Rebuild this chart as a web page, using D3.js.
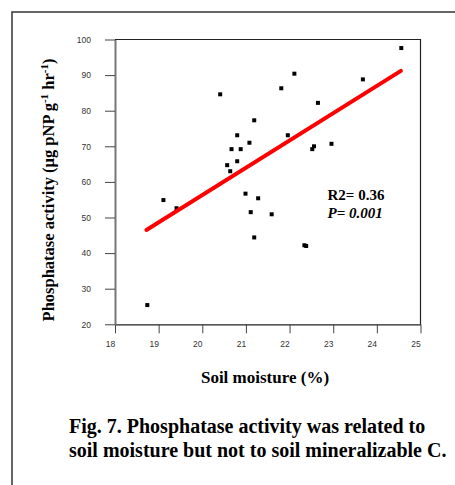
<!DOCTYPE html>
<html>
<head>
<meta charset="utf-8">
<script src="https://cdn.jsdelivr.net/npm/d3@7"></script>
<style>
  body { margin: 0; background: #fff; }
  svg { display: block; }
</style>
</head>
<body>
<div id="chart-area"></div>
<script>
// soil moisture (%) and phosphatase activity readings
var moisture = [18.74, 19.11, 19.41, 20.41, 20.57, 20.64, 20.67, 20.80, 20.80, 20.88, 20.99, 21.08, 21.11, 21.19, 21.19, 21.28, 21.59, 21.81, 21.96, 22.11, 22.34, 22.38, 22.52, 22.56, 22.65, 22.96, 23.68, 24.56];
var activity = [25.4, 54.9, 52.6, 84.6, 64.7, 63.0, 69.2, 73.1, 65.8, 69.2, 56.7, 71.0, 51.5, 77.3, 44.4, 55.4, 50.9, 86.3, 73.1, 90.4, 42.2, 42.0, 69.2, 70.0, 82.2, 70.7, 88.8, 97.6];
var fitX = [18.72, 24.55];
var fitY = [46.5, 91.2];
var xTicks = [18, 19, 20, 21, 22, 23, 24, 25];
var yTicks = [20, 30, 40, 50, 60, 70, 80, 90, 100];

var W = 455, H = 485;
var plot = { left: 115, right: 420.5, top: 39.5, bottom: 324.3 };

var svg = d3.select("#chart-area").append("svg")
    .attr("width", W)
    .attr("height", H);

// outer figure frame
svg.append("rect")
    .attr("x", 12).attr("y", 12)
    .attr("width", 460).attr("height", 490)
    .attr("fill", "none")
    .attr("stroke", "#333")
    .attr("stroke-width", 1.5);

var x = d3.scaleLinear().domain([18, 25]).range([plot.left, plot.right]);
var y = d3.scaleLinear().domain([20, 100]).range([plot.bottom, plot.top]);

// box top and right
svg.append("path")
    .attr("d", `M${plot.left},${plot.top}H${plot.right}V${plot.bottom}`)
    .attr("fill", "none")
    .attr("stroke", "#222")
    .attr("stroke-width", 1.2);

var xAxis = svg.append("g")
    .attr("transform", `translate(0,${plot.bottom})`)
    .call(d3.axisBottom(x).tickValues(xTicks).tickFormat(d3.format("d")).tickSize(9).tickSizeOuter(0).tickPadding(8));
xAxis.select(".domain").attr("stroke", "#222").attr("stroke-width", 1.3);
xAxis.selectAll(".tick line").attr("stroke", "#444").attr("stroke-width", 1);
xAxis.selectAll("text")
    .attr("font-family", "Liberation Sans, Arial, sans-serif")
    .attr("font-size", "8.5px")
    .attr("fill", "#333")
    .attr("dx", -5);

var yAxis = svg.append("g")
    .attr("transform", `translate(${plot.left},0)`)
    .call(d3.axisLeft(y).tickValues(yTicks).tickSize(10).tickSizeOuter(0).tickPadding(14));
yAxis.select(".domain").attr("stroke", "#777").attr("stroke-width", 2);
yAxis.selectAll(".tick line").attr("stroke", "#444").attr("stroke-width", 1);
yAxis.selectAll("text")
    .attr("font-family", "Liberation Sans, Arial, sans-serif")
    .attr("font-size", "8.5px")
    .attr("fill", "#333");

// points
svg.selectAll("rect.pt")
    .data(moisture.map((m, i) => [m, activity[i]]))
    .enter().append("rect")
    .attr("class", "pt")
    .attr("x", d => x(d[0]) - 2)
    .attr("y", d => y(d[1]) - 2)
    .attr("width", 4)
    .attr("height", 4)
    .attr("fill", "#000");

// regression line
svg.append("line")
    .attr("x1", x(fitX[0])).attr("y1", y(fitY[0]))
    .attr("x2", x(fitX[1])).attr("y2", y(fitY[1]))
    .attr("stroke", "#ff0000")
    .attr("stroke-width", 4)
    .attr("stroke-linecap", "round");

var serif = "Liberation Serif, Times New Roman, serif";

svg.append("text")
    .attr("x", 327.5).attr("y", 200)
    .attr("font-family", serif).attr("font-weight", "bold").attr("font-size", "15px")
    .text("R2= 0.36");
svg.append("text")
    .attr("x", 327.5).attr("y", 217.5)
    .attr("font-family", serif).attr("font-weight", "bold").attr("font-style", "italic").attr("font-size", "15px")
    .text("P= 0.001");

// axis titles
svg.append("text")
    .attr("x", 265).attr("y", 383)
    .attr("text-anchor", "middle")
    .attr("font-family", serif).attr("font-weight", "bold").attr("font-size", "17px")
    .text("Soil moisture (%)");

var yt = svg.append("text")
    .attr("transform", "translate(54,190) rotate(-90)")
    .attr("text-anchor", "middle")
    .attr("font-family", serif).attr("font-weight", "bold").attr("font-size", "16.5px");
yt.append("tspan").text("Phosphatase activity (μg pNP g");
yt.append("tspan").attr("dy", -6).attr("font-size", "11px").text("-1");
yt.append("tspan").attr("dy", 6).text(" hr");
yt.append("tspan").attr("dy", -6).attr("font-size", "11px").text("-1");
yt.append("tspan").attr("dy", 6).text(")");

// caption
var cap = svg.append("text")
    .attr("font-family", serif).attr("font-weight", "bold").attr("font-size", "20px");
cap.append("tspan").attr("x", 69).attr("y", 433).text("Fig. 7. Phosphatase activity was related to");
cap.append("tspan").attr("x", 69).attr("y", 457).text("soil moisture but not to soil mineralizable C.");
</script>
</body>
</html>
